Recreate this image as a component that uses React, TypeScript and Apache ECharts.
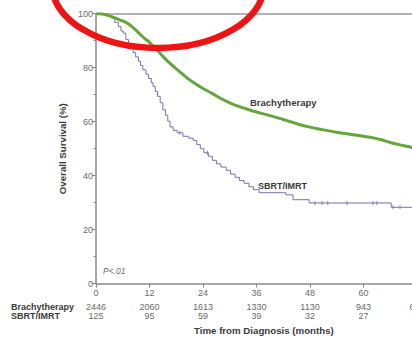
import React, { useEffect, useRef } from "react";
import * as echarts from "echarts";

const monthTicks = [0, 12, 24, 36, 48, 60, 72];
const brachyAtRisk = ["2446", "2060", "1613", "1330", "1130", "943", "664"];
const sbrtAtRisk = ["125", "95", "59", "39", "32", "27", "19"];
const yTicks = [0, 20, 40, 60, 80, 100];

const brachyCurve: [number, number][] = [
  [0, 100], [1, 100], [2, 99.7], [3, 99.2], [4, 98.6], [5, 97.9], [6, 97.3], [7, 96.5],
  [8, 95.3], [9, 93.8], [10, 92.2], [11, 90.7], [12, 89.4], [13, 87.6], [14, 86],
  [15, 84.2], [16, 82.5], [17, 81], [18, 79.6], [19, 78.2], [20, 76.8], [21, 75.5],
  [22, 74.4], [23, 73.3], [24, 72.3], [26, 70.5], [28, 68.6], [30, 67], [32, 65.7],
  [34, 64.6], [36, 63.6], [38, 62.7], [40, 61.8], [42, 60.8], [44, 59.8], [46, 58.8],
  [48, 58], [50, 57.3], [52, 56.7], [54, 56.1], [56, 55.6], [58, 55.1], [60, 54.6],
  [62, 54.1], [64, 53.3], [66, 52.3], [68, 51.5], [70, 50.8], [71, 50.4],
];

const sbrtCurve: [number, number][] = [
  [0, 100], [2.5, 99.2], [3.5, 98.4], [4.2, 96.8], [5, 95.2], [5.6, 93.6], [6.1, 92.8],
  [6.7, 90.4], [7.3, 88.8], [7.9, 87.2], [8.3, 85.6], [8.9, 84], [9.5, 82.4], [10, 80.8],
  [10.5, 79.2], [11.2, 77.6], [11.8, 76], [12.4, 74.4], [12.8, 73], [13.3, 71.2],
  [13.8, 69.4], [14.4, 67], [15, 64.4], [15.6, 62.4], [16.1, 60.2], [16.6, 58.1],
  [17.3, 56.8], [18.2, 55.9], [19.5, 54.6], [20.8, 53.9], [21.8, 53.1], [22.6, 51.5],
  [23.4, 50], [24.2, 48.5], [25.2, 47.2], [26.1, 45.7], [27, 44.4], [28, 43.2],
  [29.2, 42], [30.2, 40.6], [31.2, 39.4], [32.2, 38.2], [33.2, 37.2], [34.3, 35.9],
  [35.3, 34.8], [36.6, 33.7], [42.6, 32.9], [44.2, 31.1], [47.8, 29.9], [66.2, 28.3],
  [71, 28.3],
];

const sbrtCensored: [number, number][] = [
  [18.8, 55.9], [25, 48.5], [49.1, 29.9], [50.7, 29.9], [52, 29.9], [56.3, 29.9],
  [62.1, 29.9], [63, 29.9], [66.6, 28.3], [68.2, 28.3],
];

const FONT = "Liberation Sans, Arial, sans-serif";

export default function App() {
  const ref = useRef<HTMLDivElement>(null);
  useEffect(() => {
    if (!ref.current) return;
    const chart = echarts.init(ref.current, null, { renderer: "svg" });
    chart.setOption({
      animation: false,
      backgroundColor: "#ffffff",
      textStyle: { fontFamily: FONT },
      grid: { left: 96, top: 13.7, right: 23, bottom: 53.3, containLabel: false },
      xAxis: [
        {
          type: "value",
          min: 0,
          max: 72,
          interval: 12,
          axisLine: { show: true, lineStyle: { color: "#8a8a8a", width: 1.5 } },
          axisTick: { show: true, length: 4, lineStyle: { color: "#8a8a8a", width: 1 } },
          splitLine: { show: false },
          axisLabel: {
            margin: 0,
            formatter: (v: number) => {
              const i = monthTicks.indexOf(v);
              return `{t|${v}}\n{b|${brachyAtRisk[i] ?? ""}}\n{s|${sbrtAtRisk[i] ?? ""}}`;
            },
            rich: {
              t: { fontSize: 9, lineHeight: 18, color: "#6a6a6a", fontFamily: FONT },
              b: { fontSize: 9, lineHeight: 10, color: "#6a6a6a", fontFamily: FONT },
              s: { fontSize: 9, lineHeight: 8, color: "#6a6a6a", fontFamily: FONT },
            },
          },
        },
        {
          type: "value",
          position: "top",
          min: 0,
          max: 72,
          interval: 12,
          axisLine: { show: true, lineStyle: { color: "#9a9a9a", width: 1.5 } },
          axisTick: { show: false },
          axisLabel: { show: false },
          splitLine: { show: false },
        },
      ],
      yAxis: {
        type: "value",
        min: 0,
        max: 100,
        interval: 20,
        axisLine: { show: true, lineStyle: { color: "#8a8a8a", width: 1.5 } },
        axisTick: { show: true, length: 4, lineStyle: { color: "#8a8a8a" } },
        minorTick: { show: true, splitNumber: 2, length: 2.5, lineStyle: { color: "#8a8a8a" } },
        splitLine: { show: false },
        axisLabel: {
          margin: 3,
          fontSize: 9,
          color: "#6a6a6a",
          fontFamily: FONT,
          formatter: (v: number) => (yTicks.includes(v) ? String(v) : ""),
        },
        name: "Overall Survival (%)",
        nameLocation: "middle",
        nameGap: 27,
        nameTextStyle: { fontSize: 9.7, fontWeight: "bold", color: "#3a3a3a", fontFamily: FONT },
      },
      series: [
        {
          type: "line",
          name: "Brachytherapy",
          data: brachyCurve,
          showSymbol: false,
          smooth: 0.3,
          lineStyle: { color: "#64a63a", width: 3 },
          z: 3,
        },
        {
          type: "line",
          name: "SBRT/IMRT",
          data: sbrtCurve,
          step: "end",
          showSymbol: false,
          lineStyle: { color: "#7272b0", width: 1 },
          z: 2,
        },
        {
          type: "scatter",
          data: sbrtCensored,
          symbol: "rect",
          symbolSize: [1, 4],
          itemStyle: { color: "#6a6aa8" },
          z: 2,
        },
      ],
      graphic: [
        {
          type: "text",
          left: 250,
          top: 97,
          style: { text: "Brachytherapy", fontSize: 9.5, fontWeight: "bold", fill: "#3a3a3a", fontFamily: FONT },
        },
        {
          type: "text",
          left: 258,
          top: 181,
          style: { text: "SBRT/IMRT", fontSize: 9, fontWeight: "bold", fill: "#3a3a3a", fontFamily: FONT },
        },
        {
          type: "text",
          left: 103,
          top: 266,
          style: { text: "P<.01", fontSize: 8.5, fontStyle: "italic", fill: "#6a6a6a", fontFamily: FONT },
        },
        {
          type: "text",
          left: 11,
          top: 302.5,
          style: { text: "Brachytherapy", fontSize: 9, lineHeight: 9, fontWeight: "bold", fill: "#3a3a3a", fontFamily: FONT },
        },
        {
          type: "text",
          left: 11,
          top: 311.5,
          style: { text: "SBRT/IMRT", fontSize: 9, lineHeight: 9, fontWeight: "bold", fill: "#3a3a3a", fontFamily: FONT },
        },
        {
          type: "text",
          left: 194,
          top: 325.5,
          style: { text: "Time from Diagnosis (months)", fontSize: 9.7, fontWeight: "bold", fill: "#3a3a3a", fontFamily: FONT },
        },
        {
          type: "ellipse",
          shape: { cx: 158, cy: -15, rx: 106, ry: 63 },
          style: { fill: "none", stroke: "#ee1414", lineWidth: 6.5 },
          z: 100,
        },
      ],
    });
    return () => chart.dispose();
  }, []);
  return (
    <div style={{ position: "fixed", left: 0, top: 0, width: 412, height: 337, overflow: "hidden", background: "#fff" }}>
      <div ref={ref} style={{ width: 440, height: 337 }} />
    </div>
  );
}
